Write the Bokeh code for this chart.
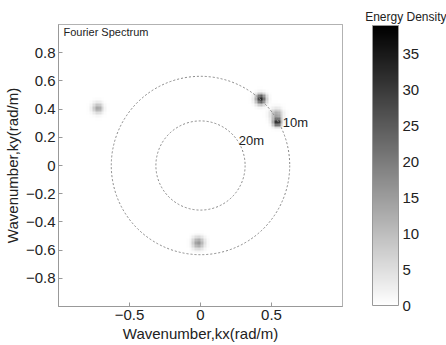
import numpy as np
from bokeh.plotting import figure
from bokeh.models import (LinearColorMapper, ColorBar, FixedTicker, Label, Title)
from bokeh.palettes import Greys256
from bokeh.embed import file_html
from bokeh.resources import INLINE

# ---- data ----
spot_kx = [0.43, 0.545, 0.54, -0.73, -0.015]
spot_ky = [0.475, 0.31, 0.365, 0.41, -0.555]
spot_amp = [34.0, 32.0, 13.0, 14.0, 16.0]
spot_sigma = [0.025, 0.02, 0.03, 0.026, 0.028]
ring_wavelengths = [20, 10]          # metres
ring_labels = ["20m", "10m"]
x_ticks = [-0.5, 0, 0.5]
y_ticks = [-0.8, -0.6, -0.4, -0.2, 0, 0.2, 0.4, 0.6, 0.8]
cbar_ticks = [0, 5, 10, 15, 20, 25, 30, 35]
cbar_max = 39

# ---- spectrum grid ----
n = 100
k = np.linspace(-1, 1, n)
KX, KY = np.meshgrid(k, k)
E = np.zeros_like(KX)
for cx, cy, a, s in zip(spot_kx, spot_ky, spot_amp, spot_sigma):
    E += a * np.exp(-((KX - cx) ** 2 + (KY - cy) ** 2) / (2 * s ** 2))

FONT = "Liberation Sans"
p = figure(width=446, height=345, x_range=(-1, 1), y_range=(-1, 1),
           output_backend="svg", toolbar_location=None,
           min_border_left=57, min_border_right=104,
           min_border_top=24, min_border_bottom=39)
p.xgrid.visible = False
p.ygrid.visible = False
p.outline_line_color = "#999999"
p.background_fill_color = "white"

mapper = LinearColorMapper(palette=list(reversed(Greys256)), low=0, high=cbar_max)
p.image(image=[E], x=-1, y=-1, dw=2, dh=2, color_mapper=mapper)

radii = [2 * np.pi / L for L in ring_wavelengths]
p.circle(x=[0, 0], y=[0, 0], radius=radii, fill_color=None,
         line_color="#888888", line_dash="2 2", line_width=1)

for ax in (p.xaxis[0], p.yaxis[0]):
    ax.major_tick_in = 4
    ax.major_tick_out = 0
    ax.minor_tick_line_color = None
    ax.axis_line_color = "#999999"
    ax.major_tick_line_color = "#999999"
    ax.major_label_text_font = FONT
    ax.major_label_text_font_size = "15px"
    ax.major_label_text_color = "#222222"
    ax.axis_label_text_font = FONT
    ax.axis_label_text_font_size = "15px"
    ax.axis_label_text_font_style = "normal"
    ax.axis_label_text_color = "#222222"
    ax.major_label_standoff = 3
    ax.axis_label_standoff = 2
p.xaxis.ticker = FixedTicker(ticks=x_ticks)
p.yaxis.ticker = FixedTicker(ticks=y_ticks)
p.xaxis.axis_label = "Wavenumber,kx(rad/m)"
p.yaxis.axis_label = "Wavenumber,ky(rad/m)"

cb = ColorBar(color_mapper=mapper, ticker=FixedTicker(ticks=cbar_ticks),
              width=26, height=280, location=(30, 1), margin=0, padding=0,
              major_label_text_font=FONT, major_label_text_font_size="15px",
              major_label_text_color="#222222", label_standoff=4,
              major_tick_line_color=None, bar_line_color="#999999",
              border_line_color=None, background_fill_color=None)
p.add_layout(cb, "right")

p.add_layout(Title(text="Energy Density", align="right", offset=-104,
                   standoff=2, text_font=FONT, text_font_size="12px",
                   text_font_style="normal", text_color="#222222"), "above")

p.add_layout(Label(x=-0.965, y=0.95, text="Fourier Spectrum", text_font=FONT,
                   text_font_size="11px", text_baseline="middle",
                   text_color="#222222"))
p.add_layout(Label(x=0.27, y=0.177, text=ring_labels[0], text_font=FONT,
                   text_font_size="13px", text_baseline="middle",
                   text_color="#222222"))
p.add_layout(Label(x=0.58, y=0.305, text=ring_labels[1], text_font=FONT,
                   text_font_size="13px", text_baseline="middle",
                   text_color="#222222"))

open("out.html", "w").write(file_html(p, INLINE))
